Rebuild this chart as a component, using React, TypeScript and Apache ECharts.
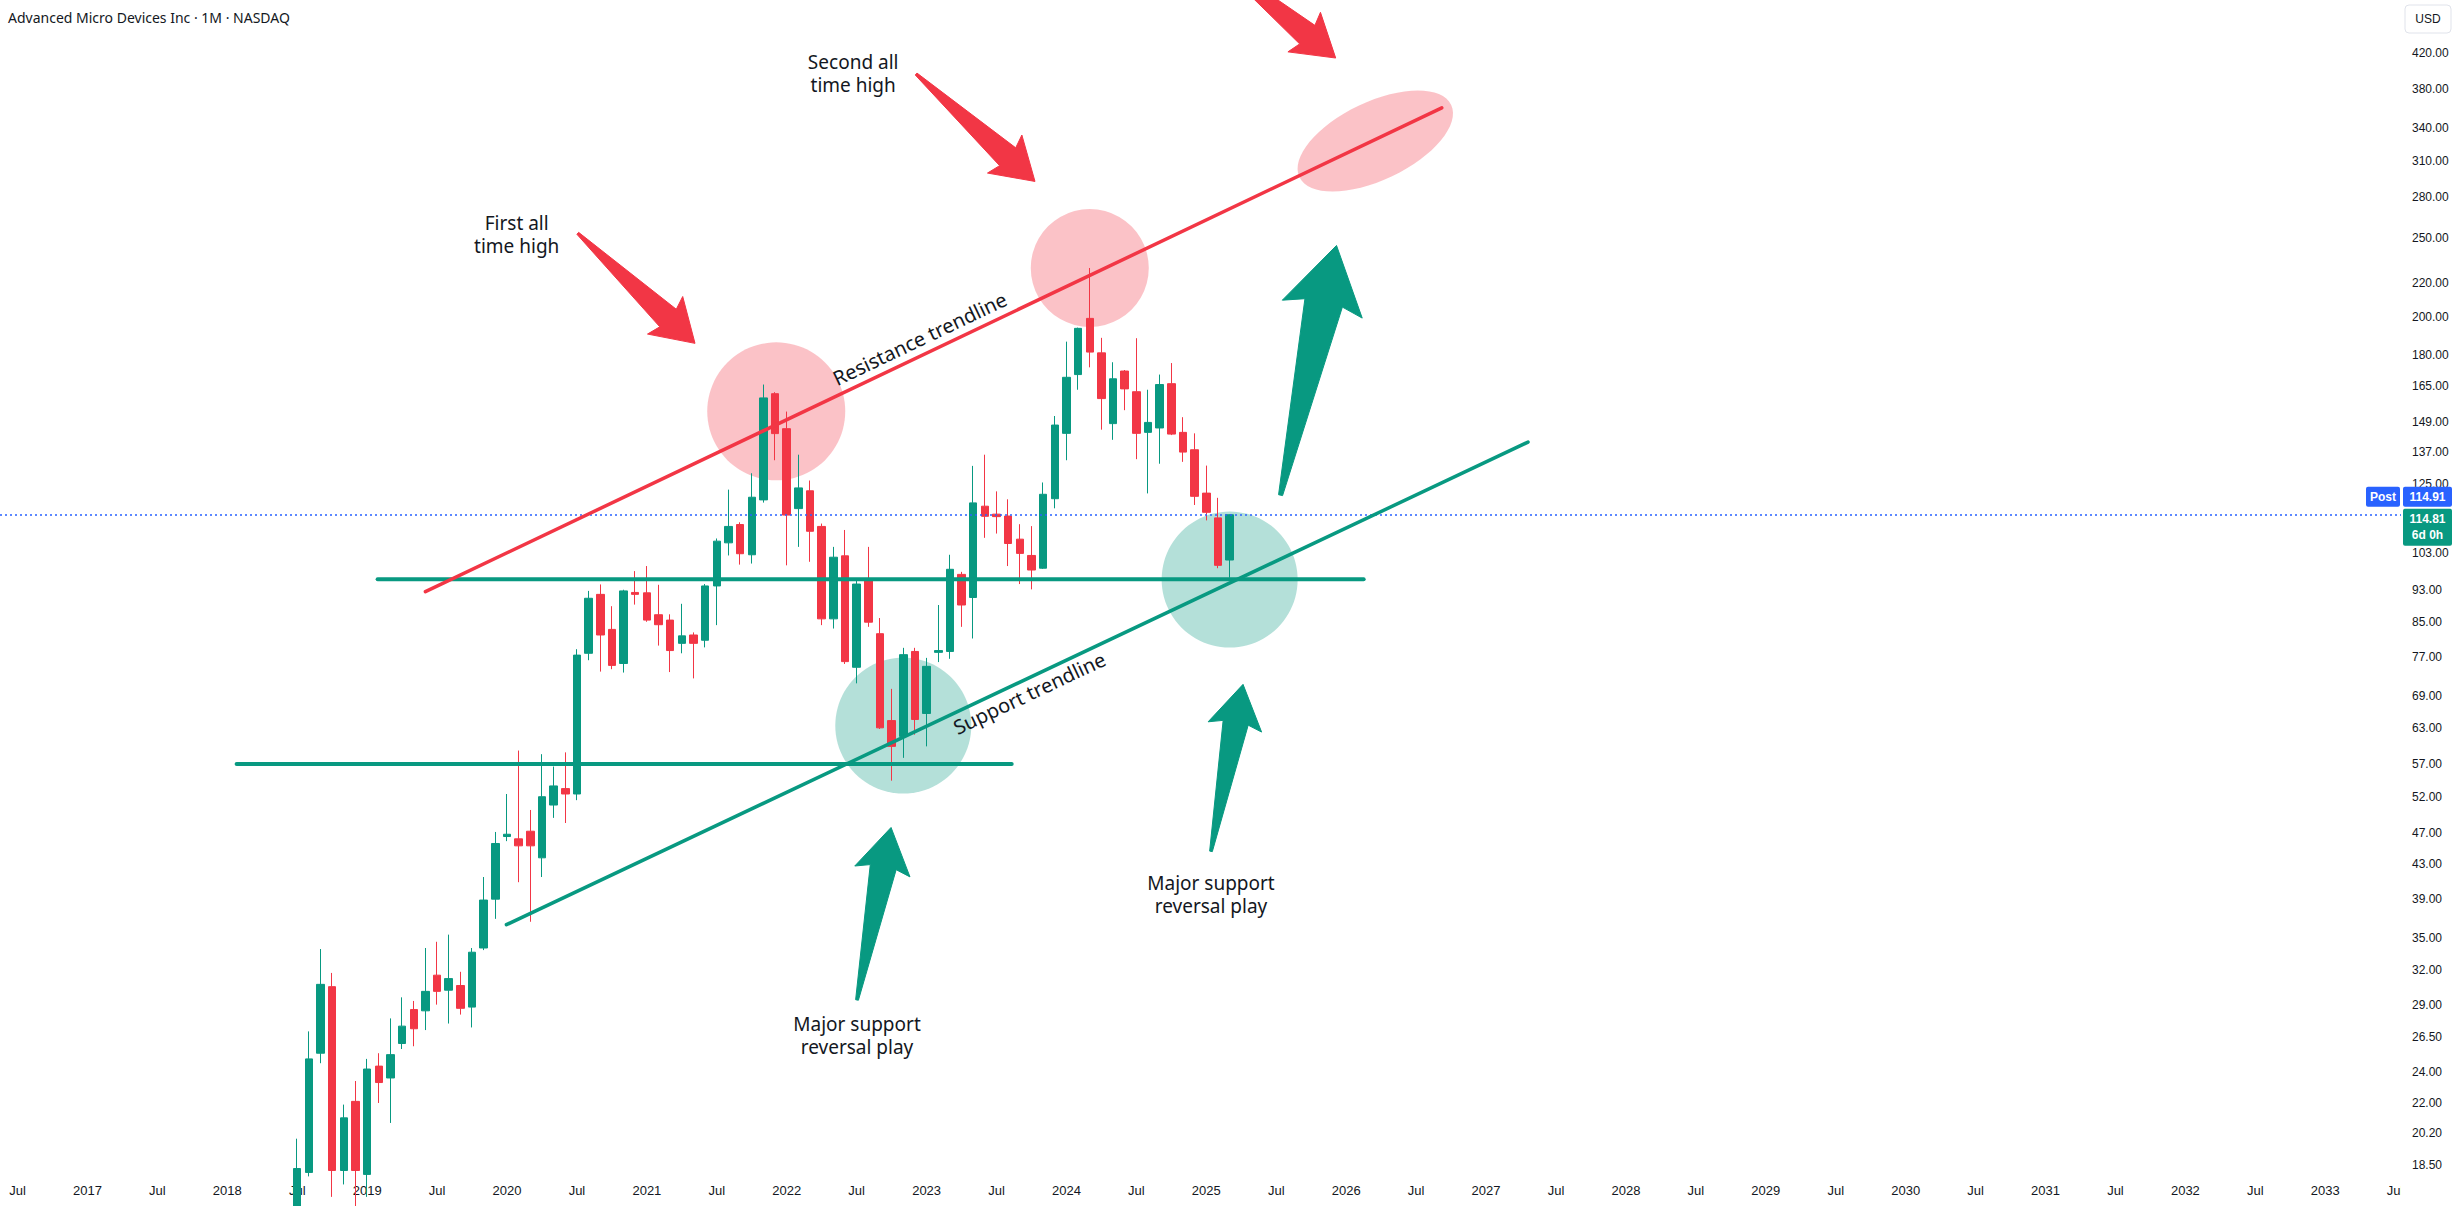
import React, { useEffect, useRef } from 'react';
import * as echarts from 'echarts';

const W = 2455;
const H = 1206;
const RED = '#F23645';
const GREEN = '#089981';
const TEXT = '#131722';
const BLUE = '#2962FF';
const PINK_FILL = 'rgba(242,54,69,0.3)';
const GREEN_FILL = 'rgba(8,153,129,0.3)';

const MONTH_NAMES = ['Jan', 'Feb', 'Mar', 'Apr', 'May', 'Jun', 'Jul', 'Aug', 'Sep', 'Oct', 'Nov', 'Dec'];
const FIRST_CAT_YEAR = 2016;
const FIRST_CAT_MONTH = 5; // June 2016
const CAT_COUNT = 206; // Jun 2016 .. Jul 2033
const categories: string[] = [];
for (let i = 0; i < CAT_COUNT; i++) {
  const t = FIRST_CAT_MONTH + i;
  categories.push(MONTH_NAMES[t % 12] + ' ' + (FIRST_CAT_YEAR + Math.floor(t / 12)));
}

// Monthly candles, Jul 2018 .. Mar 2025
const CANDLE_START = 'Jul 2018';
const opens = [
  15.0, 18.1, 25.3, 30.5, 18.2, 22.1,
  18.0, 24.4, 23.6, 26.0, 28.6, 28.5, 31.5, 30.2, 30.6, 28.8, 34.0, 39.0,
  46.5, 46.2, 47.2, 43.8, 50.8, 53.2, 52.4, 77.8, 91.8, 83.2, 75.6, 92.3,
  92.2, 86.7, 85.4, 80.0, 81.9, 80.7, 94.0, 106.1, 111.7, 102.6, 119.7, 161.3,
  146.2, 116.8, 122.8, 111.1, 85.7, 102.3, 74.8, 95.9, 82.2, 64.4, 61.6, 78.2,
  65.7, 78.0, 78.2, 97.1, 91.0, 117.6, 115.0, 114.4, 107.2, 102.4, 98.8, 120.1,
  144.3, 170.2, 199.3, 180.9, 148.3, 171.9, 162.2, 144.7, 146.5, 165.9, 144.7, 137.8,
  122.0, 113.8, 101.1,
];
const highs = [
  19.9, 26.9, 33.9, 31.7, 21.9, 23.4,
  24.9, 25.3, 27.9, 29.6, 29.3, 34.0, 34.6, 35.3, 31.8, 34.0, 41.5, 47.1,
  52.4, 59.2, 50.1, 58.6, 56.6, 58.9, 78.7, 92.7, 94.4, 88.8, 93.0, 98.0,
  99.4, 94.3, 86.8, 89.4, 82.5, 94.5, 107.4, 123.2, 112.4, 129.0, 165.5, 162.0,
  153.4, 135.9, 126.4, 112.0, 104.9, 110.0, 95.6, 104.9, 85.9, 70.4, 79.0, 79.0,
  76.8, 89.1, 102.6, 97.8, 131.7, 135.9, 122.6, 119.9, 111.8, 111.2, 125.7, 151.5,
  186.7, 194.2, 229.6, 188.7, 176.2, 172.4, 188.5, 163.1, 170.2, 175.8, 151.0, 144.3,
  131.8, 120.4, 114.9,
];
const lows = [
  14.7, 17.9, 24.6, 16.9, 17.5, 16.0,
  16.9, 22.0, 20.8, 25.6, 25.8, 27.0, 29.0, 27.5, 28.2, 27.2, 33.8, 36.9,
  45.9, 40.9, 36.6, 41.5, 49.0, 48.3, 51.5, 76.3, 73.9, 74.4, 73.7, 89.2,
  85.0, 79.5, 73.8, 77.8, 72.5, 79.1, 84.2, 102.4, 99.8, 100.1, 118.8, 133.8,
  99.6, 104.9, 100.6, 84.2, 83.4, 75.5, 71.5, 83.8, 62.9, 54.4, 58.0, 61.9,
  59.9, 75.9, 76.6, 83.8, 81.1, 107.6, 108.9, 99.4, 94.5, 93.1, 98.6, 116.9,
  133.8, 163.1, 173.7, 145.8, 141.7, 154.0, 134.2, 121.9, 132.5, 143.6, 133.2, 118.0,
  113.0, 98.8, 96.2,
];
const closes = [
  18.3, 24.9, 30.7, 18.2, 21.1, 18.2,
  24.2, 23.3, 25.2, 27.3, 27.1, 30.1, 30.1, 31.2, 28.7, 33.6, 38.9, 45.6,
  46.8, 45.3, 45.3, 52.0, 53.6, 52.4, 77.4, 90.8, 81.9, 75.2, 92.7, 91.8,
  85.4, 84.3, 78.4, 81.7, 80.0, 94.0, 106.6, 111.1, 102.9, 120.6, 159.4, 144.2,
  114.7, 123.8, 109.6, 85.7, 101.9, 76.0, 94.5, 84.9, 63.1, 59.9, 77.5, 64.6,
  75.0, 78.4, 98.5, 89.1, 118.7, 114.3, 114.2, 105.9, 103.0, 98.3, 121.6, 147.7,
  168.9, 193.8, 181.3, 159.1, 168.2, 163.5, 144.3, 148.8, 165.5, 144.0, 136.9, 120.9,
  115.6, 99.6, 114.81,
];

const priceTicks = [18.5, 20.2, 22, 24, 26.5, 29, 32, 35, 39, 43, 47, 52, 57, 63, 69, 77, 85, 93, 103, 125, 137, 149, 165, 180, 200, 220, 250, 280, 310, 340, 380, 420];
const Y_MIN = 17.82;
const Y_MAX = 487.4;
const LAST_PRICE = 114.81;
const POST_PRICE = 114.91;
const COUNTDOWN = '6d 0h';
const TITLE = 'Advanced Micro Devices Inc · 1M · NASDAQ';

// Drawings, anchored in (category index, price)
const trendLines = [
  { from: [36.0, 92.5], to: [123.2, 360], color: RED, width: 3.5 },
  { from: [42.95, 36.3], to: [130.6, 140.8], color: GREEN, width: 3.5 },
];
const levels = [
  { from: 31.9, to: 116.5, price: 95.8 },
  { from: 19.8, to: 86.3, price: 57.0 },
];
const circles = [
  { at: 66.1, price: 153.5, r: 69, fill: PINK_FILL },
  { at: 93, price: 229.6, r: 59, fill: PINK_FILL },
  { at: 77, price: 63.5, r: 68, fill: GREEN_FILL },
  { at: 105, price: 95.7, r: 68, fill: GREEN_FILL },
];
const targetZone = { at: 117.5, price: 328, rx: 84, ry: 39 };
const arrows = [
  { tail: [49.07, 253.1], tip: [59.13, 185.8], color: RED },
  { tail: [78.1, 395.9], tip: [88.3, 292.8], color: RED },
  { tail: [103.5, 551], tip: [114.1, 414.1], color: RED },
  { tail: [109.37, 121.3], tip: [114.17, 244.6], color: GREEN },
  { tail: [73.03, 29.38], tip: [75.95, 47.7], color: GREEN },
  { tail: [103.4, 44.6], tip: [106.15, 71.3], color: GREEN },
];
const notes = [
  { text: 'First all\ntime high', at: 43.83, price: 252.4 },
  { text: 'Second all\ntime high', at: 72.7, price: 396.5 },
  { text: 'Major support\nreversal play', at: 73.03, price: 26.6 },
  { text: 'Major support\nreversal play', at: 103.4, price: 39.5 },
];
const lineLabels = [
  { text: 'Resistance trendline', line: 0, at: 79.0, offset: 16 },
  { text: 'Support trendline', line: 1, at: 87.3, offset: -14 },
];

function buildCandles() {
  const start = categories.indexOf(CANDLE_START);
  const data: any[] = categories.map(() => '-');
  for (let i = 0; i < opens.length; i++) {
    data[start + i] = [opens[i], closes[i], lows[i], highs[i]];
  }
  return data;
}

export default function App() {
  const ref = useRef<HTMLDivElement>(null);

  useEffect(() => {
    document.body.style.margin = '0';
    const chart = echarts.init(ref.current as HTMLDivElement, null, { renderer: 'svg' });
    chart.setOption({
      animation: false,
      backgroundColor: '#ffffff',
      grid: { left: 0, right: 54, top: 0, bottom: 28, containLabel: false },
      xAxis: {
        type: 'category',
        data: categories,
        boundaryGap: true,
        axisLine: { show: false },
        axisTick: { show: false },
        splitLine: { show: false },
        axisLabel: {
          interval: (i: number) => {
            const m = (FIRST_CAT_MONTH + i) % 12;
            return m === 0 || m === 6;
          },
          formatter: (val: string) => (val.startsWith('Jan') ? val.slice(4) : 'Jul'),
          color: TEXT,
          fontSize: 13,
          fontFamily: 'Liberation Sans',
          margin: 6,
        },
      },
      yAxis: {
        type: 'log',
        logBase: 10,
        position: 'right',
        min: Y_MIN,
        max: Y_MAX,
        axisLine: { show: false },
        axisTick: { show: false },
        splitLine: { show: false },
        axisLabel: {
          customValues: priceTicks,
          formatter: (v: number) => Number(v).toFixed(2),
          color: TEXT,
          fontSize: 12,
          fontFamily: 'Liberation Sans',
          margin: 11,
        },
      },
      series: [
        {
          type: 'candlestick',
          data: buildCandles(),
          barWidth: 8,
          clip: true,
          z: 2,
          itemStyle: {
            color: GREEN,
            color0: RED,
            borderColor: GREEN,
            borderColor0: RED,
            borderWidth: 1,
          },
          markLine: {
            silent: true,
            symbol: 'none',
            label: { show: false },
            lineStyle: { color: BLUE, type: [2, 3], width: 1.5 },
            data: [{ yAxis: POST_PRICE }],
          },
        },
      ],
    });

    const x0 = chart.convertToPixel({ xAxisIndex: 0 }, 0) as number;
    const x1 = chart.convertToPixel({ xAxisIndex: 0 }, CAT_COUNT - 1) as number;
    const px = (i: number) => x0 + ((x1 - x0) * i) / (CAT_COUNT - 1);
    const py = (v: number) => chart.convertToPixel({ yAxisIndex: 0 }, v) as number;

    const els: any[] = [];

    circles.forEach((c) => {
      els.push({ type: 'circle', silent: true, z: 1, shape: { cx: px(c.at), cy: py(c.price), r: c.r }, style: { fill: c.fill } });
    });

    const lp = trendLines.map((l) => ({
      x1: px(l.from[0]), y1: py(l.from[1]), x2: px(l.to[0]), y2: py(l.to[1]),
    }));
    const resAngle = Math.atan2(-(lp[0].y2 - lp[0].y1), lp[0].x2 - lp[0].x1);
    els.push({
      type: 'ellipse', silent: true, z: 1,
      x: px(targetZone.at), y: py(targetZone.price), rotation: resAngle,
      shape: { cx: 0, cy: 0, rx: targetZone.rx, ry: targetZone.ry },
      style: { fill: PINK_FILL },
    });

    levels.forEach((lv) => {
      const y = py(lv.price);
      els.push({ type: 'line', silent: true, z: 5, shape: { x1: px(lv.from), y1: y, x2: px(lv.to), y2: y }, style: { stroke: GREEN, lineWidth: 4, lineCap: 'round' } });
    });

    trendLines.forEach((l, k) => {
      els.push({ type: 'line', silent: true, z: 5, shape: lp[k], style: { stroke: l.color, lineWidth: l.width, lineCap: 'round' } });
    });

    lineLabels.forEach((lab) => {
      const l = trendLines[lab.line];
      const p = lp[lab.line];
      const t = (lab.at - l.from[0]) / (l.to[0] - l.from[0]);
      const cx = p.x1 + t * (p.x2 - p.x1);
      const cy = p.y1 + t * (p.y2 - p.y1);
      const len = Math.hypot(p.x2 - p.x1, p.y2 - p.y1);
      const ux = (p.x2 - p.x1) / len;
      const uy = (p.y2 - p.y1) / len;
      const ang = Math.atan2(-(p.y2 - p.y1), p.x2 - p.x1);
      els.push({
        type: 'text', silent: true, z: 12,
        x: cx + lab.offset * uy, y: cy - lab.offset * ux, rotation: ang,
        style: { text: lab.text, fill: TEXT, fontSize: 20, fontFamily: 'Noto Sans', align: 'center', verticalAlign: 'middle' },
      });
    });

    arrows.forEach((a) => {
      const tx = px(a.tail[0]);
      const ty = py(a.tail[1]);
      const hx = px(a.tip[0]);
      const hy = py(a.tip[1]);
      const L = Math.hypot(hx - tx, hy - ty);
      const ux = (hx - tx) / L;
      const uy = (hy - ty) / L;
      const nx = -uy;
      const ny = ux;
      const P = (f: number, g: number) => [tx + ux * f * L + nx * g * L, ty + uy * f * L + ny * g * L];
      els.push({
        type: 'polygon', silent: true, z: 8,
        shape: { points: [P(0, -0.008), P(0.77, -0.075), P(0.745, -0.16), P(1, 0), P(0.745, 0.16), P(0.77, 0.075), P(0, 0.008)] },
        style: { fill: a.color, stroke: a.color, lineWidth: 1, lineJoin: 'round' },
      });
    });

    notes.forEach((n) => {
      els.push({
        type: 'text', silent: true, z: 12,
        x: px(n.at), y: py(n.price),
        style: { text: n.text, fill: TEXT, fontSize: 19, lineHeight: 23, fontFamily: 'Noto Sans', align: 'center', verticalAlign: 'middle' },
      });
    });

    // title
    els.push({
      type: 'text', silent: true, z: 20, x: 8, y: 17,
      style: { text: TITLE, fill: TEXT, fontSize: 14, fontFamily: 'Noto Sans', align: 'left', verticalAlign: 'middle' },
    });

    const scaleLeft = px(CAT_COUNT - 0.5);

    // the time scale stops at the price scale: hide whatever spills past it
    els.push({ type: 'rect', silent: true, z: 30, shape: { x: scaleLeft, y: H - 27, width: W - scaleLeft, height: 27 }, style: { fill: '#ffffff' } });

    // currency box
    els.push({ type: 'rect', silent: true, z: 20, shape: { x: 2405, y: 5, width: 46, height: 28, r: 4 }, style: { fill: '#ffffff', stroke: '#E0E3EB', lineWidth: 1 } });
    els.push({ type: 'text', silent: true, z: 21, x: 2428, y: 19, style: { text: 'USD', fill: TEXT, fontSize: 12, fontFamily: 'Liberation Sans', align: 'center', verticalAlign: 'middle' } });

    // price labels
    const P0 = py(LAST_PRICE);
    els.push({ type: 'rect', silent: true, z: 20, shape: { x: scaleLeft - 35, y: P0 - 28, width: 34, height: 20, r: 2 }, style: { fill: BLUE } });
    els.push({ type: 'text', silent: true, z: 21, x: scaleLeft - 18, y: P0 - 18, style: { text: 'Post', fill: '#ffffff', fontSize: 12, fontWeight: 'bold', fontFamily: 'Liberation Sans', align: 'center', verticalAlign: 'middle' } });
    els.push({ type: 'rect', silent: true, z: 20, shape: { x: scaleLeft + 2, y: P0 - 28, width: 49, height: 20, r: 2 }, style: { fill: BLUE } });
    els.push({ type: 'text', silent: true, z: 21, x: scaleLeft + 26.5, y: P0 - 18, style: { text: POST_PRICE.toFixed(2), fill: '#ffffff', fontSize: 12, fontWeight: 'bold', fontFamily: 'Liberation Sans', align: 'center', verticalAlign: 'middle' } });
    els.push({ type: 'rect', silent: true, z: 20, shape: { x: scaleLeft + 2, y: P0 - 6, width: 49, height: 37, r: 2 }, style: { fill: GREEN } });
    els.push({ type: 'text', silent: true, z: 21, x: scaleLeft + 26.5, y: P0 + 4, style: { text: LAST_PRICE.toFixed(2), fill: '#ffffff', fontSize: 12, fontWeight: 'bold', fontFamily: 'Liberation Sans', align: 'center', verticalAlign: 'middle' } });
    els.push({ type: 'text', silent: true, z: 21, x: scaleLeft + 26.5, y: P0 + 20, style: { text: COUNTDOWN, fill: '#ffffff', fontSize: 12, fontWeight: 'bold', fontFamily: 'Liberation Sans', align: 'center', verticalAlign: 'middle' } });

    chart.setOption({ graphic: { elements: els } });

    return () => {
      chart.dispose();
    };
  }, []);

  return (
    <div
      ref={ref}
      style={{ position: 'fixed', left: 0, top: 0, width: W, height: H, background: '#ffffff' }}
    />
  );
}
